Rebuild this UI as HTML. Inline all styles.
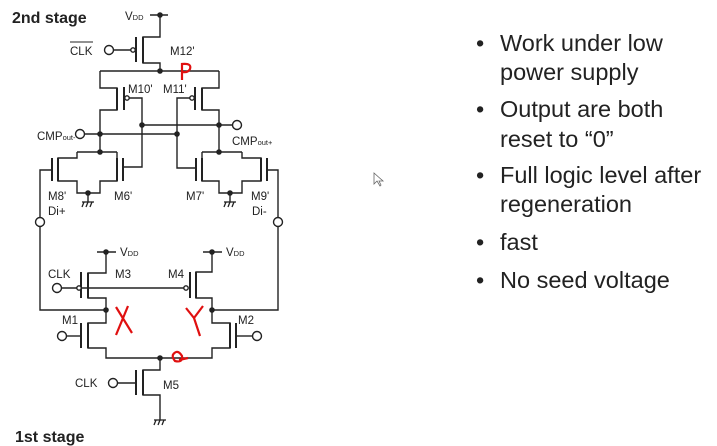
<!DOCTYPE html>
<html><head><meta charset="utf-8"><style>
html,body{margin:0;padding:0;background:#fff;}
svg{display:block}
text{font-family:"Liberation Sans",Arial,sans-serif;fill:#222}
</style></head><body>
<svg width="717" height="446" viewBox="0 0 717 446" xmlns="http://www.w3.org/2000/svg">
<defs>
<g id="gnd" stroke="#222" stroke-width="1.3">
<line x1="-6" y1="0" x2="6" y2="0"/>
<line x1="-4" y1="0" x2="-6" y2="5"/>
<line x1="0" y1="0" x2="-2" y2="5"/>
<line x1="4" y1="0" x2="2" y2="5"/>
</g>
</defs>
<g stroke="#222" stroke-width="1.4" fill="none">
<line x1="150" y1="15" x2="168" y2="15"/>
<polyline points="160,15 160,37 143,37 143,63 160,63 160,71"/>
<line x1="143" y1="37" x2="143" y2="63" stroke-width="2"/>
<line x1="136" y1="37" x2="136" y2="62" stroke-width="2"/>
<line x1="114" y1="50" x2="131" y2="50"/>
<circle cx="133" cy="50" r="2.2" fill="#fff"/>
<circle cx="109" cy="50" r="4.5" fill="#fff"/>
<line x1="100" y1="71" x2="219" y2="71"/>
<polyline points="100,71 100,88 117,88 117,110 100,110 100,152"/>
<line x1="117" y1="88" x2="117" y2="110" stroke-width="2"/>
<line x1="124" y1="87" x2="124" y2="110" stroke-width="2"/>
<polyline points="129,98 142,98 142,167 124,167"/>
<circle cx="127" cy="98" r="2.2" fill="#fff"/>
<polyline points="219,71 219,88 202,88 202,110 219,110 219,152"/>
<line x1="202" y1="88" x2="202" y2="110" stroke-width="2"/>
<line x1="195" y1="87" x2="195" y2="110" stroke-width="2"/>
<polyline points="190,98 177,98 177,168 195,168"/>
<circle cx="192" cy="98" r="2.2" fill="#fff"/>
<line x1="142" y1="125" x2="232" y2="125"/>
<circle cx="237" cy="125" r="4.5" fill="#fff"/>
<line x1="85" y1="134" x2="177" y2="134"/>
<circle cx="80" cy="134" r="4.5" fill="#fff"/>
<polyline points="77,152 117,152"/>
<polyline points="77,152 77,158 58,158 58,181 77,181 77,193 100,193 100,181 117,181 117,152"/>
<line x1="58" y1="158" x2="58" y2="181" stroke-width="2"/>
<line x1="52" y1="158" x2="52" y2="181" stroke-width="2"/>
<line x1="117" y1="158" x2="117" y2="181" stroke-width="2"/>
<line x1="123" y1="158" x2="123" y2="181" stroke-width="2"/>
<polyline points="52,170 40,170 40,218"/>
<line x1="88" y1="193" x2="88" y2="202"/>
<polyline points="202,152 242,152"/>
<polyline points="242,152 242,158 261,158 261,181 242,181 242,193 219,193 219,181 202,181 202,152"/>
<line x1="261" y1="158" x2="261" y2="181" stroke-width="2"/>
<line x1="267" y1="158" x2="267" y2="181" stroke-width="2"/>
<line x1="202" y1="158" x2="202" y2="181" stroke-width="2"/>
<line x1="196" y1="158" x2="196" y2="181" stroke-width="2"/>
<polyline points="267,170 278,170 278,218"/>
<line x1="230" y1="193" x2="230" y2="202"/>
<circle cx="40" cy="222" r="4.5" fill="#fff"/>
<circle cx="278" cy="222" r="4.5" fill="#fff"/>
<polyline points="40,227 40,310 106,310"/>
<polyline points="278,227 278,310 212,310"/>
<line x1="97" y1="252" x2="116" y2="252"/>
<line x1="203" y1="252" x2="222" y2="252"/>
<polyline points="106,252 106,273 88,273 88,298 106,298 106,310"/>
<line x1="88" y1="273" x2="88" y2="298" stroke-width="2"/>
<line x1="81" y1="272" x2="81" y2="298" stroke-width="2"/>
<polyline points="212,252 212,272 196,272 196,298 212,298 212,310"/>
<line x1="196" y1="272" x2="196" y2="298" stroke-width="2"/>
<line x1="190" y1="272" x2="190" y2="298" stroke-width="2"/>
<line x1="62" y1="288" x2="186" y2="288"/>
<circle cx="79" cy="288" r="2.2" fill="#fff"/>
<circle cx="186" cy="288" r="2.2" fill="#fff"/>
<circle cx="57" cy="288" r="4.5" fill="#fff"/>
<polyline points="106,310 106,323 88,323 88,348 106,348 106,358 212,358 212,348 230,348 230,323 212,323 212,310"/>
<line x1="88" y1="323" x2="88" y2="348" stroke-width="2"/>
<line x1="81" y1="323" x2="81" y2="348" stroke-width="2"/>
<line x1="230" y1="323" x2="230" y2="348" stroke-width="2"/>
<line x1="236" y1="323" x2="236" y2="348" stroke-width="2"/>
<line x1="66" y1="336" x2="81" y2="336"/>
<circle cx="62" cy="336" r="4.5" fill="#fff"/>
<line x1="236" y1="336" x2="252" y2="336"/>
<circle cx="257" cy="336" r="4.5" fill="#fff"/>
<polyline points="160,358 160,370 143,370 143,395 160,395 160,420"/>
<line x1="143" y1="370" x2="143" y2="395" stroke-width="2"/>
<line x1="136" y1="370" x2="136" y2="395" stroke-width="2"/>
<line x1="118" y1="383" x2="136" y2="383"/>
<circle cx="113" cy="383" r="4.5" fill="#fff"/>
</g>
<use href="#gnd" x="88" y="202"/>
<use href="#gnd" x="230" y="202"/>
<use href="#gnd" x="160" y="420"/>
<g fill="#222">
<circle cx="160" cy="15" r="2.8"/><circle cx="160" cy="71" r="2.8"/>
<circle cx="142" cy="125" r="2.8"/><circle cx="219" cy="125" r="2.8"/>
<circle cx="100" cy="134" r="2.8"/><circle cx="177" cy="134" r="2.8"/>
<circle cx="100" cy="152" r="2.8"/><circle cx="219" cy="152" r="2.8"/>
<circle cx="88" cy="193" r="2.8"/><circle cx="230" cy="193" r="2.8"/>
<circle cx="106" cy="252" r="2.8"/><circle cx="212" cy="252" r="2.8"/>
<circle cx="106" cy="310" r="2.8"/><circle cx="212" cy="310" r="2.8"/>
<circle cx="160" cy="358" r="2.8"/>
</g>
<g font-size="11.5">
<text x="125" y="20">V<tspan font-size="7.5">DD</tspan></text>
<text x="70" y="55">CLK</text>
<line x1="70" y1="42" x2="93" y2="42" stroke="#222"/>
<text x="170" y="55">M12'</text>
<text x="128" y="93">M10'</text>
<text x="163" y="93">M11'</text>
<text x="37" y="140">CMP<tspan font-size="7.5">out-</tspan></text>
<text x="232" y="145">CMP<tspan font-size="7.5">out+</tspan></text>
<text x="48" y="200">M8'</text>
<text x="114" y="200">M6'</text>
<text x="186" y="200">M7'</text>
<text x="251" y="200">M9'</text>
<text x="48" y="215">Di+</text>
<text x="252" y="215">Di-</text>
<text x="120" y="256">V<tspan font-size="7.5">DD</tspan></text>
<text x="226" y="256">V<tspan font-size="7.5">DD</tspan></text>
<text x="48" y="278">CLK</text>
<text x="115" y="278">M3</text>
<text x="168" y="278">M4</text>
<text x="62" y="324">M1</text>
<text x="238" y="324">M2</text>
<text x="75" y="387">CLK</text>
<text x="163" y="389">M5</text>
</g>
<text x="12" y="23" font-size="16" font-weight="bold">2nd stage</text>
<text x="15" y="442" font-size="16" font-weight="bold">1st stage</text>
<g stroke="#e01010" stroke-width="2.2" fill="none">
<path d="M182,80 L182,64 Q192,63 190,69 Q188,73 182,72"/>
<path d="M116,307 L132,333 M128,306 L116,335"/>
<path d="M186,308 L194,318 L203,306 M194,318 L200,336"/>
<path d="M176,352 Q170,355 175,361 Q183,363 182,356 Q179,351 176,352 M179,360 L188,358"/>
</g>
<path d="M374,173 L374,184 L377,181 L380,186 L381,185 L379,181 L383,181 Z" fill="#fff" stroke="#666" stroke-width="0.8"/>
<g font-size="23.5">
<text x="476" y="51">•</text><text x="500" y="51">Work under low</text>
<text x="500" y="80">power supply</text>
<text x="476" y="117">•</text><text x="500" y="117">Output are both</text>
<text x="500" y="147">reset to “0”</text>
<text x="476" y="183">•</text><text x="500" y="183">Full logic level after</text>
<text x="500" y="212">regeneration</text>
<text x="476" y="250">•</text><text x="500" y="250">fast</text>
<text x="476" y="288">•</text><text x="500" y="288">No seed voltage</text>
</g>
</svg>
</body></html>
